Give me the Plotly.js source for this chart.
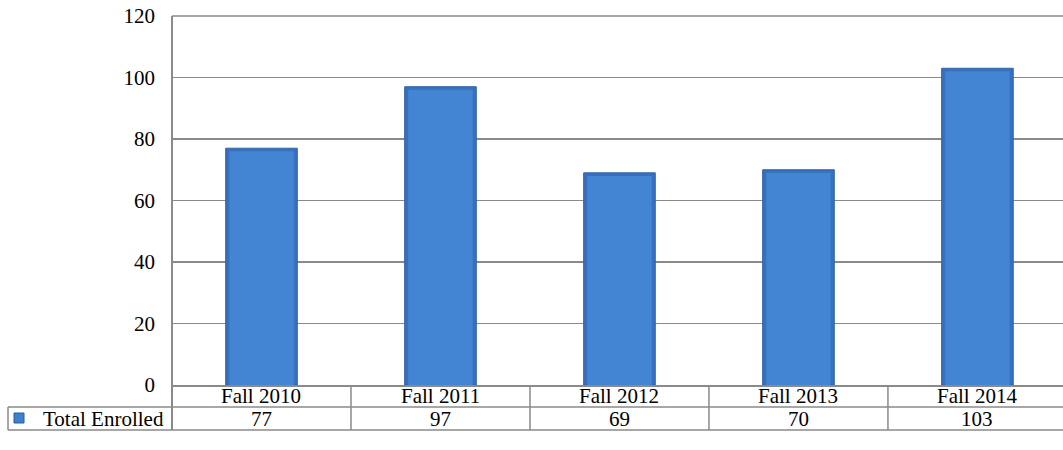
<!DOCTYPE html>
<html>
<head>
<meta charset="utf-8">
<script src="https://cdn.plot.ly/plotly-3.0.1.min.js"></script>
<style>html,body{margin:0;padding:0;background:#fff;}#chart{width:1063px;height:450px;}</style>
</head>
<body>
<div id="chart"></div>
<script>
const categories = ["Fall 2010", "Fall 2011", "Fall 2012", "Fall 2013", "Fall 2014"];
const totalEnrolled = [77, 97, 69, 70, 103];
const seriesName = "Total Enrolled";
const yTicks = [0, 20, 40, 60, 80, 100, 120];

const FONT = "Liberation Serif, Times New Roman, serif";
const FS = 21;
const GRID = "#8a8a8a";
const idx = categories.map((c, i) => i);

// outer bar (darker bevel edge)
const outer = {
  type: "bar",
  x: idx,
  y: totalEnrolled,
  width: 0.4,
  marker: { color: "#3670be", line: { color: "#2f63a8", width: 1 } },
  hoverinfo: "skip",
  showlegend: false
};
// inner face (lighter)
const inner = {
  type: "bar",
  x: idx,
  y: totalEnrolled.map(v => v - 1.0),
  width: 0.36,
  marker: { color: "#4384d3", line: { width: 0 } },
  hoverinfo: "skip",
  showlegend: false
};

// data-table geometry in paper coords
const row1 = -22 / 369, row2 = -45 / 369;
const legendLeft = -164 / 891;

const shapes = [];
shapes.push({ type: "line", xref: "paper", yref: "paper", x0: 0, x1: 1.01, y0: 1, y1: 1, line: { color: GRID, width: 1.5 } });
shapes.push({ type: "line", xref: "paper", yref: "paper", x0: legendLeft, x1: 1.01, y0: row1, y1: row1, line: { color: GRID, width: 1.5 } });
shapes.push({ type: "line", xref: "paper", yref: "paper", x0: legendLeft, x1: 1.01, y0: row2, y1: row2, line: { color: GRID, width: 1.5 } });
shapes.push({ type: "line", xref: "paper", yref: "paper", x0: legendLeft, x1: legendLeft, y0: row1, y1: row2, line: { color: GRID, width: 1.5 } });
shapes.push({ type: "line", xref: "paper", yref: "paper", x0: 0, x1: 0, y0: 1, y1: row2, line: { color: GRID, width: 2 } });
idx.slice(1).forEach(i => {
  shapes.push({ type: "line", xref: "x", yref: "paper", x0: i - 0.5, x1: i - 0.5, y0: 0, y1: row2, line: { color: GRID, width: 1.5 } });
});
shapes.push({ type: "rect", xref: "paper", yref: "paper", x0: -158 / 891, x1: -148 / 891, y0: -28 / 369, y1: -38 / 369, fillcolor: "#3e7fcf", line: { color: "#2b5c9c", width: 1 } });

const annotations = [];
categories.forEach((c, i) => {
  annotations.push({ xref: "x", yref: "paper", x: i, y: -11 / 369, text: c, showarrow: false, xanchor: "center", yanchor: "middle", font: { family: FONT, size: FS, color: "#000" } });
  annotations.push({ xref: "x", yref: "paper", x: i, y: -34 / 369, text: String(totalEnrolled[i]), showarrow: false, xanchor: "center", yanchor: "middle", font: { family: FONT, size: FS, color: "#000" } });
});
annotations.push({ xref: "paper", yref: "paper", x: -131 / 891, y: -34 / 369, text: seriesName, showarrow: false, xanchor: "left", yanchor: "middle", font: { family: FONT, size: FS, color: "#000" } });

const layout = {
  width: 1063,
  height: 450,
  margin: { l: 172, r: 0, t: 16, b: 65, pad: 0 },
  paper_bgcolor: "#fff",
  plot_bgcolor: "#fff",
  barmode: "overlay",
  font: { family: FONT, size: FS, color: "#000" },
  xaxis: {
    range: [-0.5, 4.478],
    showticklabels: false,
    showgrid: false,
    zeroline: false,
    showline: true,
    linecolor: GRID,
    linewidth: 1.5,
    ticks: "",
    fixedrange: true
  },
  yaxis: {
    range: [0, 120],
    tickvals: yTicks,
    ticktext: yTicks.map(String),
    showgrid: true,
    gridcolor: GRID,
    gridwidth: 1.5,
    zeroline: false,
    showline: false,
    ticks: "",
    ticklabelstandoff: 16,
    tickfont: { family: FONT, size: FS, color: "#000" },
    fixedrange: true
  },
  shapes: shapes,
  annotations: annotations,
  showlegend: false
};

Plotly.newPlot("chart", [outer, inner], layout, { displayModeBar: false, staticPlot: true });
</script>
</body>
</html>
